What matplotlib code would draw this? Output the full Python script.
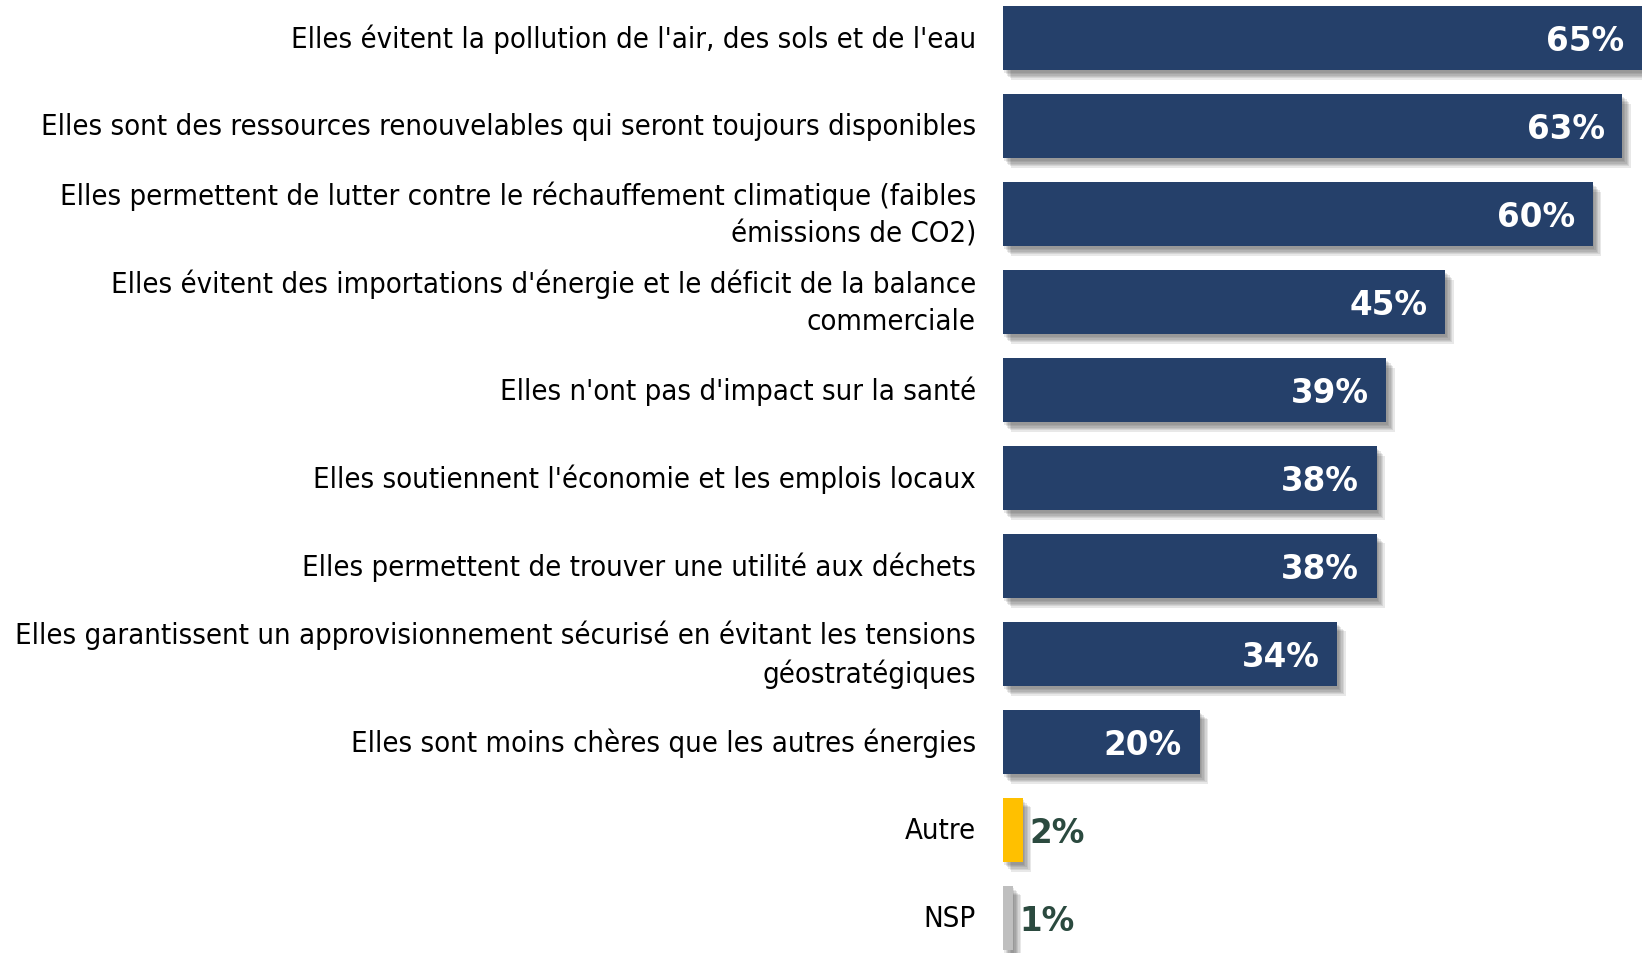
import matplotlib.pyplot as plt
import matplotlib.patheffects as pe

# categories and survey results
labels = [
    "Elles évitent la pollution de l'air, des sols et de l'eau",
    "Elles sont des ressources renouvelables qui seront toujours disponibles",
    "Elles permettent de lutter contre le réchauffement climatique (faibles\némissions de CO2)",
    "Elles évitent des importations d'énergie et le déficit de la balance\ncommerciale",
    "Elles n'ont pas d'impact sur la santé",
    "Elles soutiennent l'économie et les emplois locaux",
    "Elles permettent de trouver une utilité aux déchets",
    "Elles garantissent un approvisionnement sécurisé en évitant les tensions\ngéostratégiques",
    "Elles sont moins chères que les autres énergies",
    "Autre",
    "NSP",
]
values = [65, 63, 60, 45, 39, 38, 38, 34, 20, 2, 1]
colors = ["#25406A"] * 9 + ["#FFC000", "#BFBFBF"]

fig = plt.figure(figsize=(16.42, 9.54), dpi=100)
ax = fig.add_axes([0.6108, 0.0, 0.3892, 1.0])

ypos = list(range(len(values)))
# soft drop shadow made of a few offset layers
shadow = [pe.SimplePatchShadow(offset=(d, -d - 1), shadow_rgbFace="#444444", alpha=0.12)
          for d in (1, 2, 3, 4, 5, 6)] + [pe.Normal()]
bars = ax.barh(ypos, values, height=0.73, color=colors, zorder=2)
for b in bars:
    b.set_path_effects(shadow)

for y, v, lab in zip(ypos, values, labels):
    ax.text(-2.75, y, lab, ha="right", va="center", fontsize=21,
            fontstretch="condensed", color="black", linespacing=1.4)
    if v >= 10:
        ax.text(v - 1.8, y + 0.03, f"{v}%", ha="right", va="center", fontsize=23.5,
                fontweight="bold", color="white", zorder=3)
    else:
        ax.text(v + 0.7, y + 0.03, f"{v}%", ha="left", va="center", fontsize=23.5,
                fontweight="bold", color="#2B4A3F", zorder=3)

ax.set_xlim(0, 65)
ax.set_ylim(10.40, -0.443)
ax.axis("off")

plt.savefig("out.png", dpi=100)
